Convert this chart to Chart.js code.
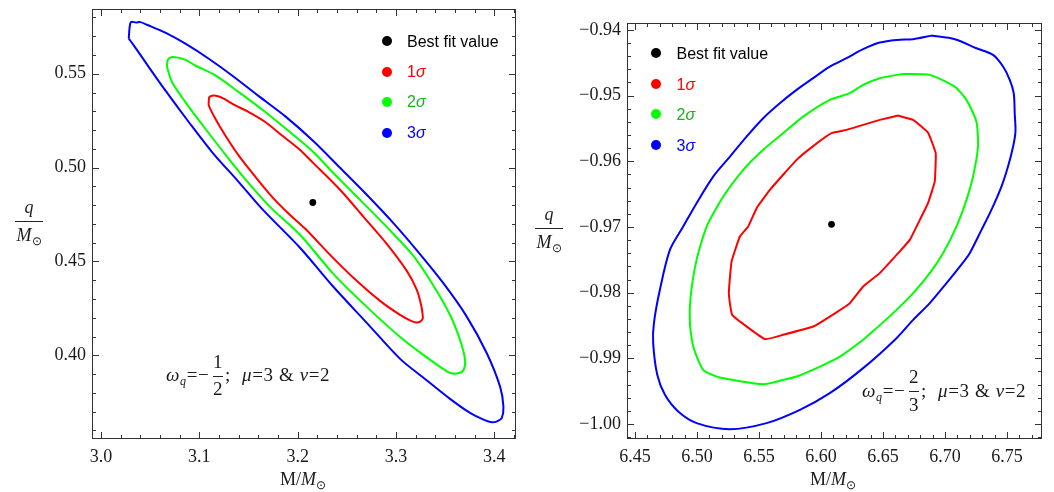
<!DOCTYPE html>
<html>
<head>
<meta charset="utf-8">
<script src="https://cdn.jsdelivr.net/npm/chart.js@4.4.1/dist/chart.umd.min.js"></script>
<style>
  html, body { margin:0; padding:0; background:#fff; }
  #wrap { position:relative; width:1054px; height:492px; overflow:hidden; background:#fff; }
  canvas { position:absolute; top:0; }
  .t { position:absolute; line-height:0; white-space:nowrap; font-family:"Liberation Serif","Times New Roman",serif; font-size:18px; color:#1a1a1a; }
  .a { font-size:19px; letter-spacing:0.6px; }
  .c { transform:translateX(-50%); }
  .i { font-style:italic; }
  .sub { position:relative; top:4px; font-size:12px; }
  .bar { position:absolute; height:1px; background:#222; }
  .lg { position:absolute; line-height:0; white-space:nowrap; font-family:"Liberation Sans",Arial,sans-serif; font-size:16px; }
  .dot { position:absolute; width:10px; height:10px; border-radius:50%; transform:translate(-50%,-50%); }
</style>
</head>
<body>
<div id="wrap">
  <canvas id="c1" width="527" height="492" style="left:0"></canvas>
  <canvas id="c2" width="527" height="492" style="left:527px"></canvas>

  <!-- left y title -->
  <div class="t c i" style="left:29px;top:207px">q</div>
  <div class="bar" style="left:15px;top:221px;width:28px"></div>
  <div class="t c" style="left:29px;top:235px"><span class="i">M</span><span class="sub">⊙</span></div>
  <!-- left x title -->
  <div class="t c" style="left:303px;top:479px">M/<span class="i">M</span><span class="sub">⊙</span></div>
  <!-- left annotation -->
  <div class="t a" style="left:166px;top:375px"><span class="i">ω</span><span class="sub i">q</span>=−</div>
  <div class="t a c" style="left:218px;top:362px">1</div>
  <div class="bar" style="left:213px;top:376px;width:10px"></div>
  <div class="t a c" style="left:218px;top:389px">2</div>
  <div class="t a" style="left:225px;top:375px">;</div>
  <div class="t a" style="left:242px;top:375px"><span class="i">μ</span>=3 &amp; <span class="i">ν</span>=2</div>

  <!-- right y title -->
  <div class="t c i" style="left:549px;top:214px">q</div>
  <div class="bar" style="left:535px;top:228px;width:28px"></div>
  <div class="t c" style="left:549px;top:242px"><span class="i">M</span><span class="sub">⊙</span></div>
  <!-- right x title -->
  <div class="t c" style="left:833px;top:479px">M/<span class="i">M</span><span class="sub">⊙</span></div>
  <!-- right annotation -->
  <div class="t a" style="left:862px;top:391px"><span class="i">ω</span><span class="sub i">q</span>=−</div>
  <div class="t a c" style="left:914px;top:377px">2</div>
  <div class="bar" style="left:909px;top:391px;width:10px"></div>
  <div class="t a c" style="left:914px;top:405px">3</div>
  <div class="t a" style="left:921px;top:391px">;</div>
  <div class="t a" style="left:938px;top:391px"><span class="i">μ</span>=3 &amp; <span class="i">ν</span>=2</div>

  <!-- legends -->
  <div id="legL"></div>
  <div id="legR"></div>
</div>

<script>
// ---------------- data ----------------
const legendLabels = ["Best fit value", "1σ", "2σ", "3σ"];

const leftXTicks = [3.0, 3.1, 3.2, 3.3, 3.4];
const leftXLabels = ["3.0", "3.1", "3.2", "3.3", "3.4"];
const leftYTicks = [0.40, 0.45, 0.50, 0.55];
const leftYLabels = ["0.40", "0.45", "0.50", "0.55"];

const rightXTicks = [6.45, 6.50, 6.55, 6.60, 6.65, 6.70, 6.75];
const rightXLabels = ["6.45", "6.50", "6.55", "6.60", "6.65", "6.70", "6.75"];
const rightYTicks = [-1.00, -0.99, -0.98, -0.97, -0.96, -0.95, -0.94];
const rightYLabels = ["−1.00", "−0.99", "−0.98", "−0.97", "−0.96", "−0.95", "−0.94"];

const leftBestFit = [3.2154, 0.4814];
const rightBestFit = [6.6085, -0.9696];

const left3Sigma = [[3.0282,0.5687],[3.0290,0.5745],[3.0305,0.5776],[3.0356,0.5773],[3.0400,0.5775],[3.0468,0.5761],[3.0654,0.5719],[3.0858,0.5660],[3.1096,0.5580],[3.1333,0.5491],[3.1604,0.5381],[3.1875,0.5273],[3.2167,0.5138],[3.2431,0.4999],[3.2703,0.4855],[3.2974,0.4704],[3.3225,0.4551],[3.3482,0.4384],[3.3720,0.4206],[3.3924,0.4011],[3.4059,0.3833],[3.4093,0.3727],[3.4076,0.3665],[3.4028,0.3648],[3.3975,0.3643],[3.3897,0.3656],[3.3754,0.3693],[3.3550,0.3768],[3.3296,0.3874],[3.3042,0.3981],[3.2703,0.4173],[3.2363,0.4365],[3.2024,0.4573],[3.1638,0.4780],[3.1401,0.4923],[3.1129,0.5083],[3.0892,0.5243],[3.0654,0.5411],[3.0451,0.5562],[3.0333,0.5651]];

const left2Sigma = [[3.0671,0.5553],[3.0682,0.5577],[3.0722,0.5589],[3.0783,0.5586],[3.0855,0.5575],[3.0959,0.5544],[3.1163,0.5491],[3.1401,0.5402],[3.1671,0.5296],[3.1943,0.5180],[3.2157,0.5084],[3.2363,0.4971],[3.2635,0.4828],[3.2906,0.4684],[3.3177,0.4530],[3.3377,0.4375],[3.3550,0.4215],[3.3652,0.4082],[3.3703,0.3975],[3.3688,0.3922],[3.3632,0.3904],[3.3550,0.3906],[3.3479,0.3928],[3.3313,0.3989],[3.3042,0.4098],[3.2703,0.4258],[3.2363,0.4434],[3.2024,0.4642],[3.1740,0.4780],[3.1536,0.4896],[3.1299,0.5047],[3.1061,0.5207],[3.0858,0.5349],[3.0722,0.5456],[3.0671,0.5536]];

const left1Sigma = [[3.1096,0.5356],[3.1102,0.5376],[3.1146,0.5384],[3.1190,0.5380],[3.1248,0.5367],[3.1366,0.5331],[3.1503,0.5296],[3.1671,0.5243],[3.1841,0.5171],[3.2011,0.5100],[3.2160,0.5024],[3.2431,0.4882],[3.2668,0.4739],[3.2906,0.4594],[3.3110,0.4450],[3.3212,0.4349],[3.3255,0.4269],[3.3273,0.4198],[3.3250,0.4181],[3.3204,0.4175],[3.3143,0.4186],[3.3042,0.4215],[3.2838,0.4290],[3.2567,0.4413],[3.2330,0.4535],[3.2078,0.4674],[3.1909,0.4754],[3.1740,0.4844],[3.1570,0.4951],[3.1401,0.5064],[3.1264,0.5171],[3.1163,0.5260],[3.1096,0.5331]];

const right3Sigma = [[6.6891,-0.94087],[6.7079,-0.94142],[6.7253,-0.94279],[6.7387,-0.94381],[6.7468,-0.94558],[6.7522,-0.94761],[6.7554,-0.94963],[6.7562,-0.95268],[6.7568,-0.95548],[6.7549,-0.95776],[6.7508,-0.96081],[6.7455,-0.96385],[6.7374,-0.96740],[6.7294,-0.97044],[6.7199,-0.97399],[6.7119,-0.97603],[6.7012,-0.97855],[6.6877,-0.98160],[6.6743,-0.98414],[6.6609,-0.98693],[6.6340,-0.99149],[6.6071,-0.99530],[6.5830,-0.99784],[6.5561,-0.99986],[6.5265,-1.00078],[6.4997,-0.99986],[6.4849,-0.99810],[6.4742,-0.99556],[6.4680,-0.99251],[6.4647,-0.98769],[6.4653,-0.98464],[6.4701,-0.97957],[6.4782,-0.97349],[6.4889,-0.96994],[6.4997,-0.96638],[6.5131,-0.96233],[6.5266,-0.95928],[6.5400,-0.95624],[6.5534,-0.95344],[6.5668,-0.95116],[6.5803,-0.94913],[6.5937,-0.94735],[6.6071,-0.94559],[6.6206,-0.94431],[6.6340,-0.94294],[6.6474,-0.94193],[6.6609,-0.94152],[6.6743,-0.94142]];

const right2Sigma = [[6.6662,-0.94670],[6.6877,-0.94685],[6.7079,-0.94863],[6.7173,-0.95065],[6.7253,-0.95396],[6.7266,-0.95776],[6.7226,-0.96233],[6.7173,-0.96588],[6.7092,-0.96994],[6.6984,-0.97399],[6.6877,-0.97703],[6.6743,-0.98008],[6.6609,-0.98262],[6.6448,-0.98540],[6.6340,-0.98718],[6.6152,-0.98973],[6.5991,-0.99125],[6.5803,-0.99277],[6.5695,-0.99327],[6.5534,-0.99393],[6.5185,-0.99292],[6.5050,-0.99175],[6.4970,-0.98820],[6.4943,-0.98464],[6.4949,-0.98059],[6.4997,-0.97501],[6.5078,-0.96994],[6.5212,-0.96537],[6.5373,-0.96131],[6.5534,-0.95826],[6.5695,-0.95572],[6.5856,-0.95320],[6.6071,-0.95065],[6.6232,-0.94963],[6.6340,-0.94837],[6.6474,-0.94735]];

const right1Sigma = [[6.6622,-0.95304],[6.6743,-0.95370],[6.6863,-0.95563],[6.6925,-0.95877],[6.6917,-0.96309],[6.6863,-0.96638],[6.6797,-0.96892],[6.6716,-0.97196],[6.6622,-0.97399],[6.6474,-0.97703],[6.6340,-0.97907],[6.6232,-0.98160],[6.6071,-0.98364],[6.5937,-0.98516],[6.5695,-0.98642],[6.5548,-0.98708],[6.5284,-0.98338],[6.5257,-0.98008],[6.5279,-0.97527],[6.5346,-0.97146],[6.5413,-0.96994],[6.5481,-0.96714],[6.5588,-0.96435],[6.5803,-0.95979],[6.5950,-0.95750],[6.6085,-0.95572],[6.6206,-0.95522],[6.6340,-0.95446],[6.6474,-0.95370]];

// ---------------- styling ----------------
const COLORS = { best:"#000000", s1:"#ff0000", s2:"#00ff00", s3:"#0000ff" };
const TEXT_COLORS = ["#000000", "#ff0000", "#1fb01f", "#0000ff"];
const SERIF = '"Liberation Serif","Times New Roman",serif';

const frameTicks = {
  id: 'frameTicks',
  afterDraw(chart, args, opts) {
    const { ctx, chartArea: a, scales: { x, y } } = chart;
    ctx.save();
    ctx.strokeStyle = '#333';
    ctx.lineWidth = 1;
    ctx.strokeRect(a.left + 0.5, a.top + 0.5, a.right - a.left - 1, a.bottom - a.top - 1);
    const seg = (x1, y1, x2, y2) => { ctx.beginPath(); ctx.moveTo(x1, y1); ctx.lineTo(x2, y2); ctx.stroke(); };
    const isMajor = (v, majors) => majors.some(m => Math.abs(m - v) < 1e-9);
    const vals = (scale, step) => {
      const out = [];
      const k0 = Math.ceil(scale.min / step - 1e-9), k1 = Math.floor(scale.max / step + 1e-9);
      for (let k = k0; k <= k1; k++) out.push(+(k * step).toFixed(6));
      return out;
    };
    vals(x, opts.xMinor).forEach(v => {
      const len = isMajor(v, opts.xMajor) ? 7 : 4;
      const p = Math.round(x.getPixelForValue(v)) + 0.5;
      seg(p, a.bottom, p, a.bottom - len);
      seg(p, a.top, p, a.top + len);
    });
    vals(y, opts.yMinor).forEach(v => {
      const len = isMajor(v, opts.yMajor) ? 7 : 4;
      const p = Math.round(y.getPixelForValue(v)) + 0.5;
      seg(a.left, p, a.left + len, p);
      seg(a.right, p, a.right - len, p);
    });
    ctx.restore();
  }
};

function contour(points, color, tension) {
  const d = points.map(([x, y]) => ({ x, y }));
  d.push({ x: points[0][0], y: points[0][1] });
  return { data: d, showLine: true, pointRadius: 0, borderColor: color, borderWidth: 2, fill: false, tension: tension, borderJoinStyle: 'round' };
}

function makeChart(id, c) {
  return new Chart(document.getElementById(id), {
    type: 'scatter',
    data: {
      datasets: [
        contour(c.s3, COLORS.s3, c.tension[2]),
        contour(c.s2, COLORS.s2, c.tension[1]),
        contour(c.s1, COLORS.s1, c.tension[0]),
        { data: [{ x: c.best[0], y: c.best[1] }], pointRadius: 3.4, backgroundColor: COLORS.best, borderWidth: 0, showLine: false }
      ]
    },
    options: {
      responsive: false, animation: false, devicePixelRatio: 1,
      layout: { padding: { top: c.padTop, right: c.padRight, left: 0, bottom: 0 } },
      plugins: {
        legend: { display: false }, tooltip: { enabled: false },
        frameTicks: { xMajor: c.xTicks, yMajor: c.yTicks, xMinor: c.xMinor, yMinor: c.yMinor }
      },
      scales: {
        x: {
          type: 'linear', min: c.xMin, max: c.xMax,
          grid: { display: false, drawTicks: false }, border: { display: false },
          afterBuildTicks: s => { s.ticks = c.xTicks.map(v => ({ value: v })); },
          afterFit: s => { s.height = 53; s.paddingLeft = 0; s.paddingRight = 0; },
          ticks: { callback: (v, i) => c.xLabels[i], autoSkip: false, maxRotation: 0, padding: 7, color: '#1a1a1a', font: { family: SERIF, size: 18 } }
        },
        y: {
          type: 'linear', min: c.yMin, max: c.yMax,
          grid: { display: false, drawTicks: false }, border: { display: false },
          afterBuildTicks: s => { s.ticks = c.yTicks.map(v => ({ value: v })); },
          afterFit: s => { s.width = c.yWidth; s.paddingTop = 0; s.paddingBottom = 0; },
          ticks: { callback: (v, i) => c.yLabels[i], autoSkip: false, padding: 6, color: '#1a1a1a', font: { family: SERIF, size: 18 } }
        }
      }
    },
    plugins: [frameTicks]
  });
}

makeChart('c1', {
  s1: left1Sigma, s2: left2Sigma, s3: left3Sigma, best: leftBestFit,
  xMin: 2.9908, xMax: 3.4221, yMin: 0.3554, yMax: 0.5845,
  xTicks: leftXTicks, xLabels: leftXLabels, yTicks: leftYTicks, yLabels: leftYLabels,
  xMinor: 0.02, yMinor: 0.01, padTop: 9, padRight: 11, yWidth: 92, tension: [0.3, 0.3, 0.3]
});
makeChart('c2', {
  s1: right1Sigma, s2: right2Sigma, s3: right3Sigma, best: rightBestFit,
  xMin: 6.4436, xMax: 6.7782, yMin: -1.00228, yMax: -0.93895,
  xTicks: rightXTicks, xLabels: rightXLabels, yTicks: rightYTicks, yLabels: rightYLabels,
  xMinor: 0.01, yMinor: 0.002, padTop: 23, padRight: 12, yWidth: 100, tension: [0.1, 0.2, 0.3]
});

// legends (HTML)
function legend(el, dotX, textX, rows) {
  const dotColors = [COLORS.best, COLORS.s1, COLORS.s2, COLORS.s3];
  let html = '';
  rows.forEach((cy, i) => {
    html += `<div class="dot" style="left:${dotX}px;top:${cy}px;background:${dotColors[i]}"></div>`;
    const lbl = i === 0 ? legendLabels[0] : legendLabels[i].replace('σ', '<span class="i">σ</span>');
    html += `<div class="lg" style="left:${textX}px;top:${cy + 0.5}px;color:${TEXT_COLORS[i]}">${lbl}</div>`;
  });
  document.getElementById(el).innerHTML = html;
}
legend('legL', 386.7, 407, [41, 71.7, 101.7, 132.7]);
legend('legR', 656, 676.5, [53.3, 84, 114.3, 145]);
</script>
</body>
</html>
